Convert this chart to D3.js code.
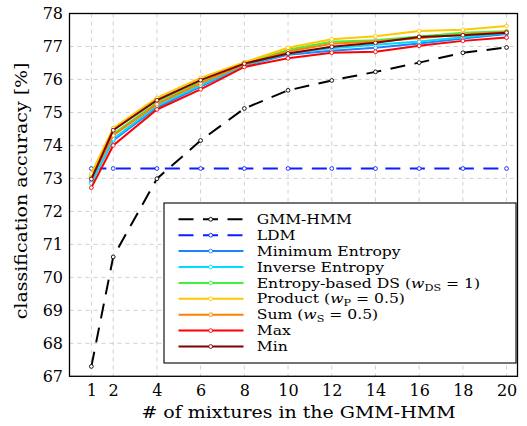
<!DOCTYPE html>
<html>
<head>
<meta charset="utf-8">
<script src="https://cdn.jsdelivr.net/npm/d3@7"></script>
<style>
  body { margin: 0; background: #fff; }
  svg { display: block; font-family: "DejaVu Serif", serif; }
</style>
</head>
<body>
<svg width="527" height="426"></svg>
<script>
// mixtures (x values)
var mixtures = [1, 2, 4, 6, 8, 10, 12, 14, 16, 18, 20];
var xTicks = [1, 2, 4, 6, 8, 10, 12, 14, 16, 18, 20];
var yTicks = [67, 68, 69, 70, 71, 72, 73, 74, 75, 76, 77, 78];

// accuracies
var gmmHmm     = [67.3, 70.62, 72.99, 74.15, 75.12, 75.67, 75.97, 76.23, 76.51, 76.81, 76.97];
var ldm        = [73.3, 73.3, 73.3, 73.3, 73.3, 73.3, 73.3, 73.3, 73.3, 73.3, 73.3];
var minEntropy = [72.9, 74.15, 75.15, 75.78, 76.42, 76.75, 76.87, 76.96, 77.09, 77.24, 77.38];
var invEntropy = [72.85, 74.2, 75.2, 75.82, 76.43, 76.78, 76.95, 77.05, 77.15, 77.28, 77.4];
var entropyDS  = [73.05, 74.35, 75.3, 75.92, 76.48, 76.9, 77.14, 77.19, 77.3, 77.42, 77.46];
var product    = [73.15, 74.52, 75.44, 76.05, 76.52, 76.96, 77.22, 77.31, 77.47, 77.51, 77.62];
var sum        = [73.0, 74.3, 75.25, 75.88, 76.46, 76.85, 77.08, 77.15, 77.25, 77.36, 77.44];
var maxRule    = [72.72, 74.0, 75.09, 75.70, 76.38, 76.64, 76.81, 76.84, 77.02, 77.17, 77.27];
var minRule    = [72.98, 74.46, 75.37, 75.98, 76.48, 76.79, 76.99, 77.11, 77.29, 77.34, 77.42];

var series = [
    {name: 'GMM-HMM', values: gmmHmm, color: '#000000', dash: '15,9.5'},
    {name: 'LDM', values: ldm, color: '#0a1eff', dash: '15,9.5'},
    {name: 'Minimum Entropy', values: minEntropy, color: '#1e82ff'},
    {name: 'Inverse Entropy', values: invEntropy, color: '#00dcff'},
    {name: 'Entropy-based DS', sub: 'DS', val: '1', values: entropyDS, color: '#40f040'},
    {name: 'Product', sub: 'P', val: '0.5', values: product, color: '#ffc800'},
    {name: 'Sum', sub: 'S', val: '0.5', values: sum, color: '#ff8000'},
    {name: 'Max', values: maxRule, color: '#ff0000'},
    {name: 'Min', values: minRule, color: '#800000'}
];

var svg = d3.select('svg');
var padding = {t: 13.5, r: 9.5, b: 49.7, l: 69.5};
var svgWidth = +svg.attr('width');
var svgHeight = +svg.attr('height');
var chartWidth = svgWidth - padding.l - padding.r;
var chartHeight = svgHeight - padding.t - padding.b;

var x = d3.scaleLinear().domain([0, 20.5]).range([0, chartWidth]);
var y = d3.scaleLinear().domain([67, 78]).range([chartHeight, 0]);

var chartG = svg.append('g')
    .attr('transform', 'translate(' + [padding.l, padding.t] + ')');

// dashed grid
chartG.append('g')
    .selectAll('line.vgrid')
    .data(xTicks)
    .enter().append('line')
    .attr('x1', function(d) { return x(d); })
    .attr('x2', function(d) { return x(d); })
    .attr('y1', 0).attr('y2', chartHeight)
    .attr('stroke', '#c4c4c4').attr('stroke-width', 0.8)
    .attr('stroke-dasharray', '4,4');
chartG.append('g')
    .selectAll('line.hgrid')
    .data(yTicks)
    .enter().append('line')
    .attr('y1', function(d) { return y(d); })
    .attr('y2', function(d) { return y(d); })
    .attr('x1', 0).attr('x2', chartWidth)
    .attr('stroke', '#c4c4c4').attr('stroke-width', 0.8)
    .attr('stroke-dasharray', '4,4');

// axes (labels only, frame drawn below)
var xAxis = d3.axisBottom(x).tickValues(xTicks).tickSize(0).tickPadding(8);
var yAxis = d3.axisLeft(y).tickValues(yTicks).tickSize(0).tickPadding(6.5);

var xg = chartG.append('g')
    .attr('transform', 'translate(' + [0, chartHeight] + ')')
    .call(xAxis);
var yg = chartG.append('g').call(yAxis);
[xg, yg].forEach(function(g) {
    g.select('.domain').remove();
    g.selectAll('text')
        .attr('font-family', '"DejaVu Serif", serif')
        .attr('font-size', 16)
        .attr('fill', '#000');
});

// lines
var line = d3.line()
    .x(function(d, i) { return x(mixtures[i]); })
    .y(function(d) { return y(d); });

var serieG = chartG.selectAll('.serie')
    .data(series)
    .enter().append('g')
    .attr('class', 'serie');
serieG.append('path')
    .attr('d', function(d) { return line(d.values); })
    .attr('fill', 'none')
    .attr('stroke', function(d) { return d.color; })
    .attr('stroke-width', 2)
    .attr('stroke-dasharray', function(d) { return d.dash || null; });
serieG.each(function(s) {
    d3.select(this).selectAll('circle')
        .data(s.values)
        .enter().append('circle')
        .attr('cx', function(d, i) { return x(mixtures[i]); })
        .attr('cy', function(d) { return y(d); })
        .attr('r', 1.9)
        .attr('fill', '#fff')
        .attr('stroke', s.color)
        .attr('stroke-width', 0.9);
});

// frame
chartG.append('rect')
    .attr('width', chartWidth).attr('height', chartHeight)
    .attr('fill', 'none').attr('stroke', '#000').attr('stroke-width', 1.3);

// axis titles
svg.append('text')
    .attr('transform', 'translate(' + [padding.l + chartWidth / 2 + 5, 418] + ') scale(1.15,1)')
    .attr('text-anchor', 'middle')
    .attr('font-size', 16.5)
    .text('# of mixtures in the GMM-HMM');
svg.append('text')
    .attr('transform', 'translate(' + [27, padding.t + chartHeight / 2 - 4] + ') rotate(-90) scale(1.15,1)')
    .attr('text-anchor', 'middle')
    .attr('font-size', 16.5)
    .text('classification accuracy [%]');

// legend
var legend = {x: 164, y: 203, w: 352, h: 160, row: 15.9};
var legendG = svg.append('g');
legendG.append('rect')
    .attr('x', legend.x).attr('y', legend.y)
    .attr('width', legend.w).attr('height', legend.h)
    .attr('fill', '#fff').attr('stroke', '#000').attr('stroke-width', 1.1);

var item = legendG.selectAll('.item')
    .data(series)
    .enter().append('g')
    .attr('class', 'item')
    .attr('transform', function(d, i) {
        return 'translate(' + [legend.x, legend.y + 16.3 + i * legend.row] + ')';
    });
item.append('line')
    .attr('x1', 14.5).attr('x2', 79.5)
    .attr('stroke', function(d) { return d.color; })
    .attr('stroke-width', 2)
    .attr('stroke-dasharray', function(d) { return d.dash || null; });
item.append('circle')
    .attr('cx', 46.7).attr('r', 1.9)
    .attr('fill', '#fff')
    .attr('stroke', function(d) { return d.color; })
    .attr('stroke-width', 0.9);

var label = item.append('text')
    .attr('transform', 'translate(92.7,4.6) scale(1.25,1)')
    .attr('font-size', 12.5);
label.each(function(d) {
    var t = d3.select(this);
    if (!d.sub) { t.text(d.name); return; }
    t.append('tspan').text(d.name + ' (');
    t.append('tspan').attr('font-style', 'italic').text('w');
    t.append('tspan').attr('font-size', 9).attr('dy', 3).text(d.sub);
    t.append('tspan').attr('dy', -3).text(' = ' + d.val + ')');
});
</script>
</body>
</html>
